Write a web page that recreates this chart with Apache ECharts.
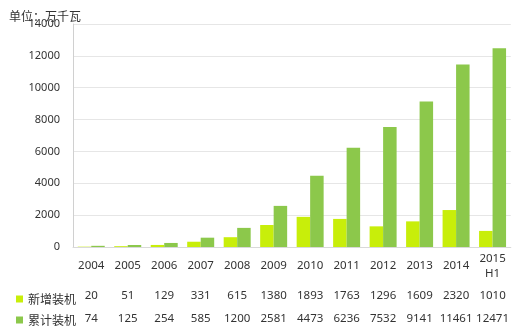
<!DOCTYPE html>
<html><head><meta charset="utf-8">
<script src="https://cdn.jsdelivr.net/npm/echarts@6/dist/echarts.min.js"></script>
<style>html,body{margin:0;padding:0;background:#fff}#c{width:512px;height:333px}</style>
</head><body><div id="c"></div>
<script>
const categories = ['2004','2005','2006','2007','2008','2009','2010','2011','2012','2013','2014','2015\nH1'];
const newInstalled = [20,51,129,331,615,1380,1893,1763,1296,1609,2320,1010];
const cumInstalled = [74,125,254,585,1200,2581,4473,6236,7532,9141,11461,12471];
const yTicks = {min:0, max:14000, interval:2000};
const seriesNames = ['新增装机','累计装机'];
const unitLabel = '单位：万千瓦';

const txt = '#333';
const numFont = 'Noto Sans';
const cjk = 'Noto Sans CJK SC';
const chart = echarts.init(document.getElementById('c'));
const tableAxis = (data, offset) => ({
  type:'category', data:data.map(String), position:'bottom', offset:offset,
  axisLine:{show:false}, axisTick:{show:false},
  axisLabel:{color:txt, fontFamily:numFont, fontSize:11.5, margin:19, verticalAlign:'middle', interval:0}
});
chart.setOption({
  animation:false,
  grid:{left:73, right:1, top:24, bottom:86, containLabel:false},
  title:{text:unitLabel, left:4, top:5, textStyle:{fontFamily:cjk, fontSize:12, fontWeight:'normal', color:txt}},
  legend:{orient:'vertical', left:11, top:288, itemWidth:7, itemHeight:7, itemGap:9, icon:'rect',
    textStyle:{fontFamily:cjk, fontSize:12, color:txt}, data:seriesNames},
  xAxis:[
    {type:'category', data:categories,
     axisLine:{show:true, lineStyle:{color:'#d9d9d9'}}, axisTick:{show:false},
     axisLabel:{color:txt, fontFamily:numFont, fontSize:11.5, margin:19, verticalAlign:'middle', lineHeight:15, interval:0}},
    tableAxis(newInstalled, 30),
    tableAxis(cumInstalled, 53)
  ],
  yAxis:{type:'value', min:yTicks.min, max:yTicks.max, interval:yTicks.interval,
    axisLine:{show:true, lineStyle:{color:'#d0d0d0'}}, axisTick:{show:false},
    splitLine:{lineStyle:{color:'#e6e6e6'}},
    axisLabel:{color:txt, fontFamily:numFont, fontSize:11, margin:13, formatter:v => String(v)}},
  series:[
    {name:seriesNames[0], type:'bar', data:newInstalled, barGap:'0%', barCategoryGap:'26%', itemStyle:{color:'#c8ee0a'}},
    {name:seriesNames[1], type:'bar', data:cumInstalled, itemStyle:{color:'#8cc84b'}}
  ]
});
</script></body></html>
